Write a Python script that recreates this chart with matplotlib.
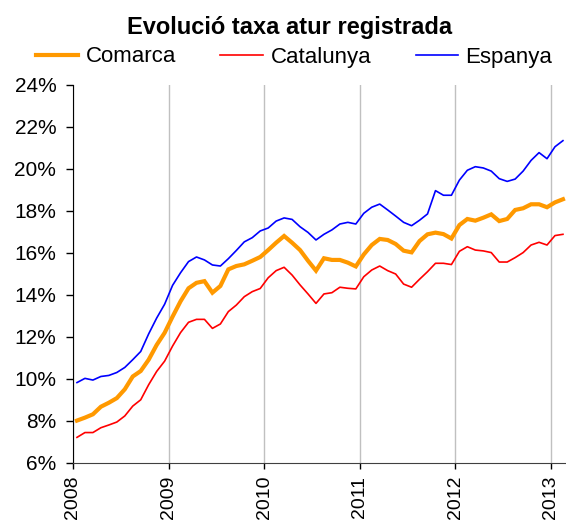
import matplotlib
matplotlib.use('Agg')
import matplotlib.pyplot as plt
from matplotlib.ticker import PercentFormatter
import numpy as np

plt.rcParams['font.family'] = ['Liberation Sans', 'DejaVu Sans']

# monthly registered unemployment rate (%), Jan 2008 - Feb 2013
years = [2008, 2009, 2010, 2011, 2012, 2013]
comarca = [8.02, 8.16, 8.32, 8.68, 8.87, 9.09, 9.51, 10.12, 10.38, 10.92, 11.62, 12.20,
           12.97, 13.70, 14.32, 14.58, 14.66, 14.11, 14.43, 15.22, 15.38, 15.46, 15.63, 15.81,
           16.14, 16.49, 16.81, 16.49, 16.14, 15.63, 15.16, 15.75, 15.67, 15.67, 15.54, 15.36,
           15.93, 16.38, 16.67, 16.62, 16.43, 16.11, 16.03, 16.57, 16.89, 16.97, 16.90, 16.69,
           17.33, 17.62, 17.54, 17.68, 17.84, 17.52, 17.62, 18.05, 18.13, 18.32, 18.32, 18.18,
           18.41, 18.56]
catalunya = [7.22, 7.45, 7.45, 7.68, 7.81, 7.95, 8.24, 8.71, 9.01, 9.73, 10.36, 10.85,
             11.57, 12.21, 12.70, 12.84, 12.84, 12.41, 12.62, 13.21, 13.52, 13.92, 14.16, 14.31,
             14.82, 15.16, 15.32, 14.95, 14.48, 14.05, 13.60, 14.05, 14.11, 14.37, 14.32, 14.29,
             14.87, 15.19, 15.38, 15.16, 15.00, 14.52, 14.37, 14.75, 15.11, 15.51, 15.51, 15.45,
             16.08, 16.30, 16.14, 16.10, 16.02, 15.57, 15.57, 15.78, 16.02, 16.38, 16.51, 16.38,
             16.83, 16.89]
espanya = [9.83, 10.03, 9.95, 10.12, 10.17, 10.31, 10.55, 10.92, 11.31, 12.15, 12.90, 13.56,
           14.46, 15.06, 15.59, 15.81, 15.67, 15.43, 15.38, 15.73, 16.12, 16.53, 16.73, 17.05,
           17.19, 17.52, 17.67, 17.60, 17.25, 16.98, 16.62, 16.89, 17.10, 17.38, 17.46, 17.38,
           17.89, 18.18, 18.33, 18.05, 17.76, 17.46, 17.30, 17.56, 17.86, 18.97, 18.75, 18.75,
           19.47, 19.94, 20.11, 20.05, 19.90, 19.54, 19.41, 19.52, 19.90, 20.41, 20.78, 20.49,
           21.06, 21.35]

# mid-month positions in fractional years
t = 2008 + (np.arange(len(comarca)) + 0.5) / 12.

fig = plt.figure(figsize=(5.66, 5.22), dpi=100)
ax = fig.add_axes([73/566., 1 - 463/522., 1 - 73/566., (463 - 85)/522.])

ax.plot(t, comarca, color='#FF9900', lw=3, label='Comarca', solid_joinstyle='miter')
ax.plot(t, catalunya, color='#FF0000', lw=1.2, label='Catalunya')
ax.plot(t, espanya, color='#0000FF', lw=1.2, label='Espanya')

ax.set_xlim(2008, 2008 + (566 - 73) / 95.6)
ax.set_ylim(6, 24)
ax.set_yticks(np.arange(6, 25, 2))
ax.yaxis.set_major_formatter(PercentFormatter(xmax=100, decimals=0))
ax.set_xticks(years)
ax.set_xticklabels([str(y) for y in years], rotation=90)
ax.xaxis.grid(True, color='#C0C0C0', lw=1)
ax.set_axisbelow(True)

for s in ['top', 'right']:
    ax.spines[s].set_visible(False)
ax.spines['left'].set_color('black')
ax.spines['bottom'].set_color('#404040')
ax.tick_params(axis='y', direction='out', length=5, width=1, pad=7, labelsize=15)
ax.tick_params(axis='x', direction='out', length=4, width=1, pad=5, labelsize=14)

fig.text(290/566., 1 - 34/522., 'Evolució taxa atur registrada', ha='center',
         va='baseline', fontsize=17, fontweight='bold')
fig.legend(loc='center', bbox_to_anchor=(294/566., 1 - 57/522.), ncol=3, frameon=False,
           fontsize=16, handlelength=1.9, handletextpad=0.35, columnspacing=2.0,
           borderpad=0, borderaxespad=0)

fig.savefig('out.png', dpi=100)
